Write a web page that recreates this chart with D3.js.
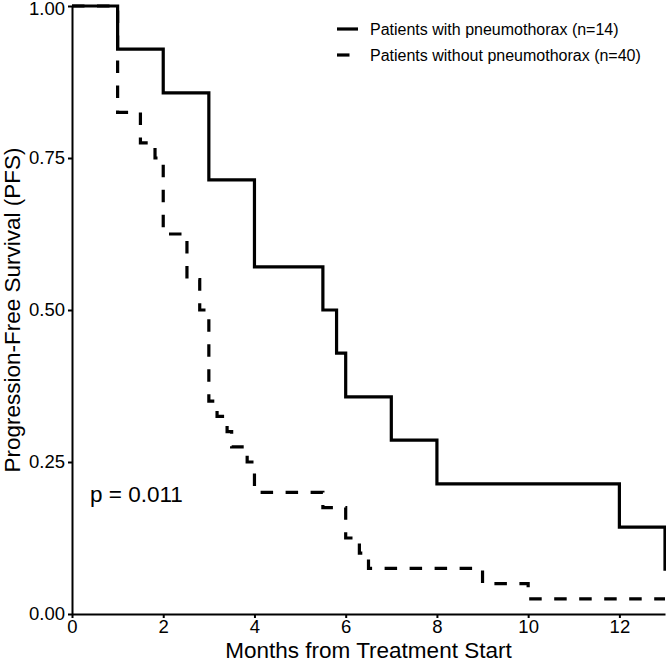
<!DOCTYPE html>
<html>
<head>
<meta charset="utf-8">
<script src="https://cdn.jsdelivr.net/npm/d3@7"></script>
<style>
  html, body { margin: 0; padding: 0; background: #fff; }
  svg { display: block; font-family: "Liberation Sans", Arial, sans-serif; }
</style>
</head>
<body>
<svg id="chart" width="666" height="663"></svg>
<script>
// ---- data ----
const withTimes = [0, 1, 2, 3, 4, 5.5, 5.8, 6, 7, 8, 12, 13];
const withSurv  = [1, 0.929, 0.857, 0.714, 0.571, 0.5, 0.429, 0.357, 0.286, 0.214, 0.143, 0.071];

const withoutTimes = [0, 1, 1.5, 1.82, 2, 2.52, 2.8, 3, 3.18, 3.4, 3.5, 3.84, 4, 5.5, 6, 6.3, 6.5, 9, 10, 13];
const withoutSurv  = [1, 0.825, 0.775, 0.75, 0.625, 0.55, 0.5, 0.35, 0.325, 0.3, 0.275, 0.25, 0.2, 0.175, 0.125, 0.1, 0.075, 0.05, 0.025, 0.025];

const seriesNames = ["Patients with pneumothorax (n=14)", "Patients without pneumothorax (n=40)"];
const xTicks = [0, 2, 4, 6, 8, 10, 12];
const yTicks = [0, 0.25, 0.5, 0.75, 1];
const xTitle = "Months from Treatment Start";
const yTitle = "Progression-Free Survival (PFS)";
const pText = "p = 0.011";

// ---- layout ----
const svg = d3.select("#chart");
const mLeft = 72, mRight = 665, mTop = 6, mBottom = 614;
const x = d3.scaleLinear().domain([0, 13]).range([mLeft, mRight]);
const y = d3.scaleLinear().domain([0, 1]).range([mBottom, mTop]);

// axes
const xAxis = d3.axisBottom(x).tickValues(xTicks).tickFormat(d3.format("d")).tickSize(4).tickSizeOuter(0).tickPadding(2);
const yAxis = d3.axisLeft(y).tickValues(yTicks).tickFormat(d3.format(".2f")).tickSize(4).tickSizeOuter(0).tickPadding(3);

const gx = svg.append("g").attr("transform", `translate(0,${mBottom})`).call(xAxis);
const gy = svg.append("g").attr("transform", `translate(${mLeft},0)`).call(yAxis);
[gx, gy].forEach(g => {
  g.select(".domain").attr("stroke", "#000").attr("stroke-width", 2);
  g.selectAll(".tick line").attr("stroke", "#000").attr("stroke-width", 2);
  g.selectAll(".tick text").attr("fill", "#000").attr("font-size", 18.5).attr("font-family", "Liberation Sans, Arial, sans-serif");
});
// keep the top tick label inside the canvas
gy.selectAll(".tick text").filter(d => d === 1).attr("dy", "0.45em");

// curves
const line = d3.line().x(d => x(d[0])).y(d => y(d[1])).curve(d3.curveStepAfter);
const withData = withTimes.map((t, i) => [t, withSurv[i]]);
const withoutData = withoutTimes.map((t, i) => [t, withoutSurv[i]]);

svg.append("path").datum(withoutData).attr("d", line)
  .attr("fill", "none").attr("stroke", "#000").attr("stroke-width", 3.2)
  .attr("stroke-dasharray", "12.5,12.5");
svg.append("path").datum(withData).attr("d", line)
  .attr("fill", "none").attr("stroke", "#000").attr("stroke-width", 3.2);

// titles
svg.append("text").attr("x", (mLeft + mRight) / 2).attr("y", 658)
  .attr("text-anchor", "middle").attr("font-size", 22.5).attr("fill", "#000").text(xTitle);
svg.append("text").attr("transform", `translate(20,${(mTop + mBottom) / 2}) rotate(-90)`)
  .attr("text-anchor", "middle").attr("font-size", 22.5).attr("fill", "#000").text(yTitle);

// p value
svg.append("text").attr("x", 90).attr("y", 502).attr("font-size", 22.5).attr("fill", "#000").text(pText);

// legend
const legY = [29, 55];
const dashes = [null, "12.5,12.5"];
seriesNames.forEach((name, i) => {
  svg.append("line").attr("x1", 337).attr("x2", 358).attr("y1", legY[i]).attr("y2", legY[i])
    .attr("stroke", "#000").attr("stroke-width", 3.2)
    .attr("stroke-dasharray", dashes[i]);
  svg.append("text").attr("x", 370).attr("y", legY[i]).attr("dy", "0.35em")
    .attr("font-size", 16).attr("fill", "#000").text(name);
});
</script>
</body>
</html>
